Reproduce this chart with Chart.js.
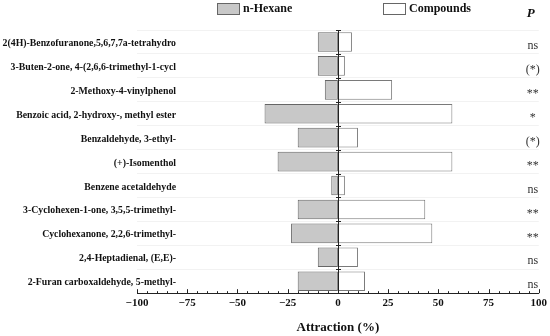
<!DOCTYPE html>
<html>
<head>
<meta charset="utf-8">
<script src="https://cdn.jsdelivr.net/npm/chart.js@4"></script>
<style>
  html, body { margin: 0; padding: 0; background: #ffffff; }
  #wrap { width: 550px; height: 336px; }
</style>
</head>
<body>
<div id="wrap"><canvas id="attractionChart"></canvas></div>
<script>
// Data
const categories = [
    "2(4H)-Benzofuranone,5,6,7,7a-tetrahydro",
    "3-Buten-2-one, 4-(2,6,6-trimethyl-1-cycl",
    "2-Methoxy-4-vinylphenol",
    "Benzoic acid, 2-hydroxy-, methyl ester",
    "Benzaldehyde, 3-ethyl-",
    "(+)-Isomenthol",
    "Benzene acetaldehyde",
    "3-Cyclohexen-1-one, 3,5,5-trimethyl-",
    "Cyclohexanone, 2,2,6-trimethyl-",
    "2,4-Heptadienal, (E,E)-",
    "2-Furan carboxaldehyde, 5-methyl-"
];
const hexaneValues = [-10, -10, -6.5, -36.5, -20, -30, -3.3, -20, -23.3, -10, -20];
const compoundValues = [7, 3.5, 27, 57, 10, 57, 3.5, 43.5, 47, 10, 13.5];
const significance = ["ns", "(*)", "**", "*", "(*)", "**", "ns", "**", "**", "ns", "ns"];
const xTicks = [-100, -75, -50, -25, 0, 25, 50, 75, 100];

const SERIF = "'Liberation Serif', 'Times New Roman', serif";

document.addEventListener('DOMContentLoaded', function () {
    const ctx = document.getElementById("attractionChart").getContext("2d");

    // compound names, right aligned, drawn over the left part of the plot
    const rowLabels = {
        id: 'rowLabels',
        afterDraw(chart) {
            const { ctx, chartArea, scales: { y } } = chart;
            ctx.save();
            ctx.font = "bold 9.8px " + SERIF;
            ctx.fillStyle = "#111";
            ctx.textAlign = "right";
            ctx.textBaseline = "middle";
            categories.forEach((name, i) => {
                ctx.fillText(name, chartArea.left + 39, y.getPixelForValue(i) + 1.5);
            });
            ctx.restore();
        }
    };

    // vertical line at zero with little ticks between rows
    const zeroAxis = {
        id: 'zeroAxis',
        afterDatasetsDraw(chart) {
            const { ctx, chartArea, scales: { x, y } } = chart;
            const x0 = Math.round(x.getPixelForValue(0)) + 0.5;
            const half = (y.getPixelForValue(1) - y.getPixelForValue(0)) / 2;
            ctx.save();
            ctx.strokeStyle = "#222";
            ctx.lineWidth = 1;
            ctx.beginPath();
            ctx.moveTo(x0, chartArea.top);
            ctx.lineTo(x0, chartArea.bottom);
            for (let i = 0; i <= categories.length; i++) {
                const yy = Math.round(y.getPixelForValue(i) - half) + 0.5;
                ctx.moveTo(x0 - 2.5, yy);
                ctx.lineTo(x0 + 2.5, yy);
            }
            ctx.stroke();
            ctx.restore();
        }
    };

    // x axis tick marks pointing up (major every 25, minor every 5)
    const upTicks = {
        id: 'upTicks',
        afterDraw(chart) {
            const { ctx, chartArea, scales: { x } } = chart;
            const yb = chartArea.bottom;
            ctx.save();
            ctx.strokeStyle = "#222";
            ctx.lineWidth = 1;
            ctx.beginPath();
            for (let v = -100; v <= 100; v += 5) {
                const px = Math.round(x.getPixelForValue(v)) + 0.5;
                const len = v % 25 === 0 ? 4 : 2;
                ctx.moveTo(px, yb);
                ctx.lineTo(px, yb - len);
            }
            ctx.stroke();
            ctx.restore();
        }
    };

    // significance column, legend boxes and "P" header
    const extras = {
        id: 'extras',
        afterDraw(chart) {
            const { ctx, chartArea, scales: { y } } = chart;
            ctx.save();
            ctx.textBaseline = "middle";
            ctx.textAlign = "center";
            ctx.fillStyle = "#333";
            ctx.font = "12px " + SERIF;
            significance.forEach((s, i) => {
                ctx.fillText(s, chartArea.right - 6, y.getPixelForValue(i) + 4);
            });

            ctx.fillStyle = "#111";
            ctx.font = "italic bold 13px " + SERIF;
            ctx.fillText("P", chartArea.right - 8, 14);

            // legend
            const items = [
                { text: "n-Hexane", fill: "#c8c8c8", stroke: "#666", x: 217 },
                { text: "Compounds", fill: "#ffffff", stroke: "#666", x: 383 }
            ];
            ctx.textAlign = "left";
            ctx.font = "bold 12px " + SERIF;
            items.forEach(it => {
                ctx.fillStyle = it.fill;
                ctx.strokeStyle = it.stroke;
                ctx.lineWidth = 1;
                ctx.fillRect(it.x + 0.5, 3.5, 22, 11);
                ctx.strokeRect(it.x + 0.5, 3.5, 22, 11);
                ctx.fillStyle = "#111";
                ctx.fillText(it.text, it.x + 26, 9);
            });
            ctx.restore();
        }
    };

    new Chart(ctx, {
        type: "bar",
        data: {
            labels: categories,
            datasets: [
                { label: "n-Hexane", data: hexaneValues, backgroundColor: "#c8c8c8", borderColor: "#666666", borderWidth: 1, borderSkipped: false, barPercentage: 0.82, categoryPercentage: 1 },
                { label: "Compounds", data: compoundValues, backgroundColor: "#ffffff", borderColor: "#7a7a7a", borderWidth: 1, borderSkipped: false, barPercentage: 0.82, categoryPercentage: 1 }
            ]
        },
        options: {
            indexAxis: "y",
            responsive: true, maintainAspectRatio: false, animation: false,
            layout: { padding: { left: 137, right: 10, top: 30, bottom: 1 } },
            plugins: { legend: { display: false }, tooltip: { enabled: false } },
            scales: {
                x: {
                    stacked: true, min: -100, max: 100,
                    afterBuildTicks: (axis) => { axis.ticks = xTicks.map(v => ({ value: v })); },
                    grid: { display: false, drawTicks: false },
                    border: { display: true, color: "#222", width: 1 },
                    ticks: {
                        padding: 3, color: "#111",
                        font: { family: SERIF, size: 11, weight: "bold" },
                        callback: (v) => v < 0 ? "\u2212" + Math.abs(v) : String(v)
                    },
                    title: {
                        display: true, text: "Attraction (%)", color: "#111",
                        font: { family: SERIF, size: 13, weight: "bold" },
                        padding: { top: 7, bottom: 0 }
                    }
                },
                y: {
                    stacked: true,
                    grid: { display: true, color: "#f2f2f2", lineWidth: 1, drawTicks: false, offset: true },
                    border: { display: false },
                    ticks: { display: false }
                }
            }
        },
        plugins: [rowLabels, zeroAxis, upTicks, extras]
    });
});
</script>
</body>
</html>
